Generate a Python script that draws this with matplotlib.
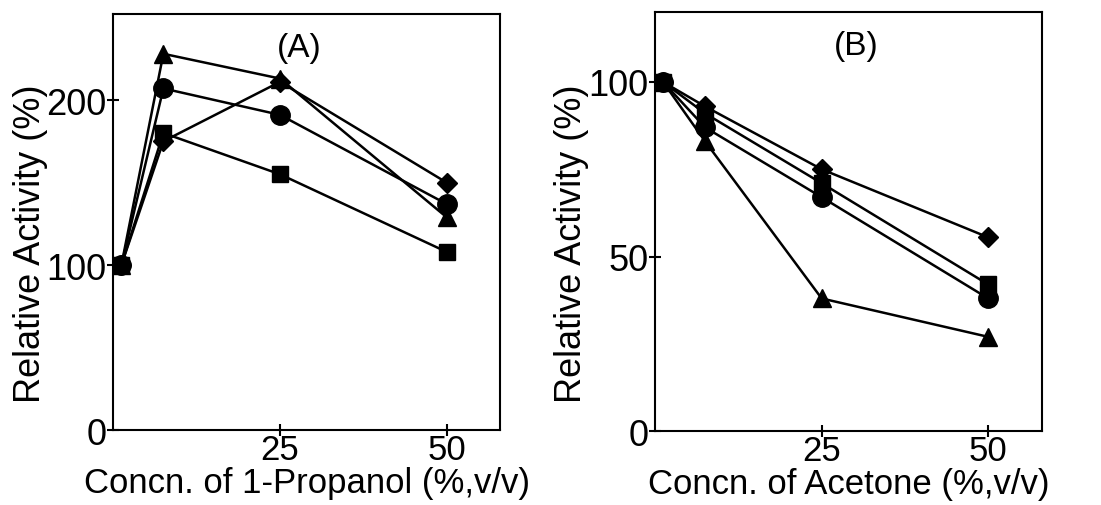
import numpy as np
import matplotlib
matplotlib.use("Agg")
import matplotlib.pyplot as plt

plt.rcParams['font.family'] = ['Liberation Sans', 'DejaVu Sans']

# concentrations (%, v/v) as placed on the plot
conc = [1.2, 7.5, 25, 50]

# (A) 1-Propanol
prop_triangle = [100, 228, 213, 129]
prop_circle = [100, 207, 191, 137]
prop_square = [100, 180, 155, 108]
prop_diamond = [100, 175, 211, 150]

# (B) Acetone
acet_triangle = [100, 83, 38, 27]
acet_circle = [100, 87, 67, 38]
acet_square = [100, 91, 71, 42]
acet_diamond = [100, 93, 75, 55.5]

fig = plt.figure(figsize=(11.01, 5.06), dpi=100)
axA = fig.add_axes([0.103, 0.148, 0.351, 0.822])
axB = fig.add_axes([0.595, 0.146, 0.351, 0.828])


def draw(ax, series, ylim, yticks, xlabel, tag, tagx):
    for vals, m, ms in series:
        ax.plot(conc, vals, color="black", lw=1.8, marker=m, ms=ms,
                markerfacecolor="black", markeredgecolor="black")
    ax.set_xlim(0, 58)
    ax.set_ylim(*ylim)
    ax.set_xticks([25, 50])
    ax.set_yticks(yticks)
    ax.tick_params(direction="inout", length=8, width=1.5, labelsize=26, pad=1)
    ax.tick_params(axis="x", pad=-2, labelsize=25)
    for s in ax.spines.values():
        s.set_linewidth(1.5)
    ax.set_xlabel(xlabel, fontsize=25, labelpad=0)
    ax.set_ylabel("Relative Activity (%)", fontsize=26)
    ax.yaxis.set_label_coords(-0.17, 0.45)
    ax.text(tagx, 0.92, tag, transform=ax.transAxes, fontsize=24,
            ha="center", va="center")


draw(axA, [(prop_square, "s", 12), (prop_diamond, "D", 10),
           (prop_circle, "o", 14), (prop_triangle, "^", 13)],
     (0, 252), [0, 100, 200], "Concn. of 1-Propanol (%,v/v)", "(A)", 0.48)
draw(axB, [(acet_triangle, "^", 13), (acet_circle, "o", 14),
           (acet_square, "s", 12), (acet_diamond, "D", 10)],
     (0, 120), [0, 50, 100], "Concn. of Acetone (%,v/v)", "(B)", 0.52)

fig.savefig("out.png", dpi=100)
